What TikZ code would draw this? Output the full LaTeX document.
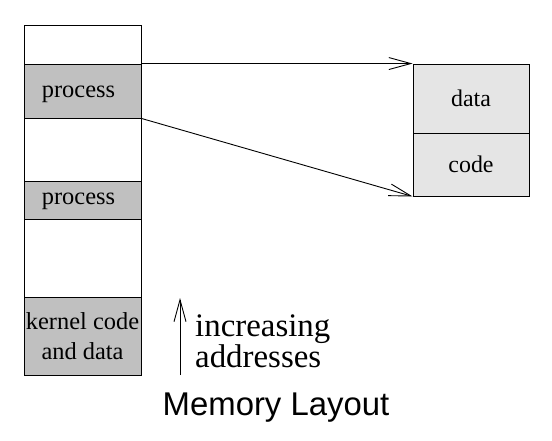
\documentclass[tikz,border=0pt]{standalone}
\usepackage{fontspec}
\setmainfont{Liberation Serif}
\setsansfont{Liberation Sans}
\usetikzlibrary{arrows.meta}
\definecolor{darkgray}{RGB}{192,192,192}
\definecolor{lightgray}{RGB}{229,229,229}
\begin{document}
\begin{tikzpicture}[x=1bp,y=-1bp,
  seg/.style={draw, line width=0.9bp, minimum width=117bp, inner sep=0pt, font=\fontsize{24.5}{30}\selectfont, align=center},
  rbox/.style={draw, line width=0.9bp, fill=lightgray, minimum width=116bp, inner sep=0pt, font=\fontsize{24}{30}\selectfont},
  link/.style={line width=0.9bp, -{Straight Barb[length=22bp,width=12bp,line width=0.9bp]}}
]
\useasboundingbox (0,0) rectangle (552,441);
% memory column
\node[seg, minimum height=39bp] (top) at (82.5,44.5) {};
\node[seg, fill=darkgray, minimum height=54bp] (p1) at (82.5,91) {};
\node[seg, minimum height=63bp] (gap1) at (82.5,149.5) {};
\node[seg, fill=darkgray, minimum height=38bp] (p2) at (82.5,200) {};
\node[seg, minimum height=78bp] (gap2) at (82.5,258) {};
\node[seg, fill=darkgray, minimum height=78bp] (kern) at (82.5,336) {kernel code\\and data};
\node[font=\fontsize{24.5}{30}\selectfont, inner sep=0pt] (p1t) at (78.5,94) {process};
\node[font=\fontsize{24.5}{30}\selectfont, inner sep=0pt] (p2t) at (78.5,201.5) {process};
% right box
\node[rbox, minimum height=69bp] (data) at (471,98.5) {data};
\node[rbox, minimum height=63bp] (code) at (471,164.5) {code};
% links
\draw[link] (p1.north east) -- (data.north west);
\draw[link] (p1.south east) -- (code.south west);
% increasing addresses
\coordinate (ab) at (180,375);
\coordinate (at) at (180,298);
\draw[link] (ab) -- (at);
\node[anchor=west, align=left, inner sep=0pt, font=\fontsize{33}{29}\selectfont] (inc) at (195,341) {increasing\\addresses};
\node[font=\sffamily\fontsize{33}{32}\selectfont, inner sep=0pt] (title) at (276,408) {Memory Layout};
\end{tikzpicture}
\end{document}
